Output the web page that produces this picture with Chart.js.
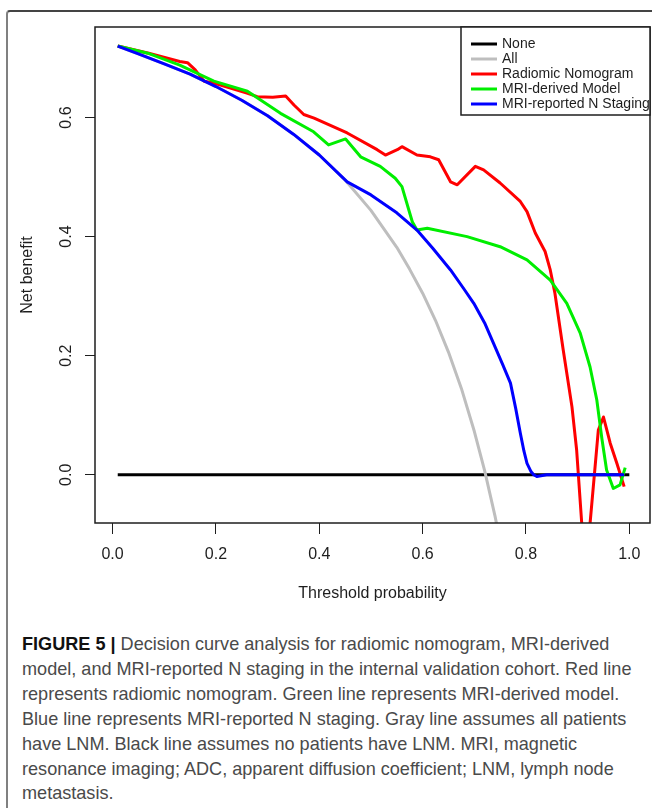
<!DOCTYPE html>
<html>
<head>
<meta charset="utf-8">
<script src="https://cdn.jsdelivr.net/npm/chart.js@4.4.1/dist/chart.umd.min.js"></script>
<style>
  body { margin: 0; background: #fff; }
  #page { position: relative; width: 652px; height: 808px; overflow: hidden; background: #fff; }
  #frame { position: absolute; left: 6px; top: 10px; width: 700px; height: 900px;
           border-top: 2px solid #444; border-left: 2px solid #808080; border-top-left-radius: 4px; }
  #chartBox { position: absolute; left: 0; top: 0; width: 652px; height: 620px; }
  #caption { position: absolute; left: 22px; top: 632px; font-family: "Liberation Sans", Arial, sans-serif;
             font-size: 18.1px; line-height: 24.9px; color: #4a4a4a; white-space: nowrap; }
  #caption b { color: #111; }
</style>
</head>
<body>
<div id="page">
  <div id="frame"></div>
  <div id="chartBox"><canvas id="dca" width="652" height="620"></canvas></div>
  <div id="caption">
    <div><b>FIGURE 5 |</b> Decision curve analysis for radiomic nomogram, MRI-derived</div>
    <div>model, and MRI-reported N staging in the internal validation cohort. Red line</div>
    <div>represents radiomic nomogram. Green line represents MRI-derived model.</div>
    <div>Blue line represents MRI-reported N staging. Gray line assumes all patients</div>
    <div>have LNM. Black line assumes no patients have LNM. MRI, magnetic</div>
    <div>resonance imaging; ADC, apparent diffusion coefficient; LNM, lymph node</div>
    <div>metastasis.</div>
  </div>
</div>
<script>
// tick labels
const xTicks = [0, 0.2, 0.4, 0.6, 0.8, 1.0];
const yTicks = [0, 0.2, 0.4, 0.6];

const seriesNames = ['None', 'All', 'Radiomic Nomogram', 'MRI-derived Model', 'MRI-reported N Staging'];

// treat none
const noneX = [0.01, 1.0];
const noneY = [0, 0];

// treat all
const allX = [0.01, 0.05, 0.1, 0.15, 0.2, 0.25, 0.3, 0.35, 0.4, 0.45, 0.5, 0.55, 0.575, 0.6, 0.625, 0.65, 0.675, 0.7, 0.72, 0.74, 0.75];
const allY = [0.72, 0.707, 0.69, 0.673, 0.652, 0.629, 0.603, 0.572, 0.537, 0.495, 0.444, 0.382, 0.345, 0.305, 0.259, 0.206, 0.145, 0.073, 0.007, -0.069, -0.112];

// radiomic nomogram
const redX = [0.01, 0.07, 0.13, 0.145, 0.16, 0.177, 0.196, 0.26, 0.28, 0.31, 0.335, 0.351, 0.37, 0.39, 0.454,
  0.512, 0.528, 0.551, 0.56, 0.589, 0.615, 0.631, 0.654, 0.667, 0.702, 0.718, 0.75, 0.789, 0.802, 0.818,
  0.837, 0.847, 0.856, 0.872, 0.889, 0.898, 0.915, 0.94, 0.95, 0.963, 0.976, 0.99];
const redY = [0.72, 0.708, 0.694, 0.692, 0.680, 0.661, 0.658, 0.641, 0.635, 0.634, 0.636, 0.621, 0.605, 0.599, 0.574,
  0.546, 0.537, 0.546, 0.551, 0.537, 0.534, 0.529, 0.492, 0.487, 0.518, 0.512, 0.490, 0.459, 0.442, 0.406,
  0.375, 0.344, 0.305, 0.210, 0.114, 0.042, -0.17, 0.075, 0.097, 0.053, 0.019, -0.020];

// MRI-derived model
const greenX = [0.01, 0.068, 0.13, 0.196, 0.261, 0.325, 0.389, 0.418, 0.451, 0.48, 0.518, 0.547, 0.56, 0.58,
  0.589, 0.609, 0.686, 0.75, 0.802, 0.847, 0.879, 0.905, 0.924, 0.937, 0.947, 0.956, 0.969, 0.982, 0.992];
const greenY = [0.72, 0.708, 0.688, 0.661, 0.644, 0.607, 0.576, 0.554, 0.564, 0.534, 0.518, 0.498, 0.484, 0.425,
  0.411, 0.414, 0.400, 0.383, 0.361, 0.327, 0.288, 0.238, 0.181, 0.126, 0.06, 0.008, -0.023, -0.017, 0.012];

// MRI-reported N staging
const blueX = [0.01, 0.05, 0.1, 0.15, 0.2, 0.25, 0.3, 0.35, 0.4, 0.454, 0.5, 0.55, 0.589, 0.62, 0.654, 0.68,
  0.699, 0.72, 0.737, 0.755, 0.77, 0.78, 0.789, 0.796, 0.802, 0.81, 0.815, 0.821, 0.84, 0.99];
const blueY = [0.72, 0.707, 0.69, 0.673, 0.652, 0.629, 0.603, 0.572, 0.537, 0.492, 0.47, 0.44, 0.411, 0.38, 0.344, 0.312,
  0.288, 0.255, 0.221, 0.185, 0.154, 0.112, 0.07, 0.04, 0.019, 0.005, 0.0, -0.003, 0.0, 0.0];

const FONT = '"Liberation Sans", Arial, sans-serif';
const INK = '#1e1e1e';

function pts(xs, ys) {
  return xs.map((x, i) => ({ x, y: ys[i] }));
}

function line(label, xs, ys, color, order) {
  return {
    label,
    data: pts(xs, ys),
    borderColor: color,
    backgroundColor: color,
    borderWidth: 3,
    borderJoinStyle: 'round',
    pointRadius: 0,
    tension: 0,
    clip: 0,
    order,
  };
}

// plot frame like R's box()
const plotBox = {
  id: 'plotBox',
  afterDatasetsDraw(chart) {
    const { ctx, chartArea: a } = chart;
    ctx.save();
    ctx.strokeStyle = INK;
    ctx.lineWidth = 1.5;
    ctx.strokeRect(a.left, a.top, a.right - a.left, a.bottom - a.top);
    ctx.restore();
  }
};

// boxed legend in the top right corner
const boxLegend = {
  id: 'boxLegend',
  afterDraw(chart) {
    const { ctx, chartArea: a } = chart;
    const left = a.right - 189;
    const top = a.top;
    ctx.save();
    ctx.fillStyle = '#fff';
    ctx.fillRect(left, top, a.right - left, 88);
    ctx.strokeStyle = INK;
    ctx.lineWidth = 1.5;
    ctx.strokeRect(left, top, a.right - left, 88);
    ctx.font = '14px ' + FONT;
    ctx.textBaseline = 'middle';
    chart.data.datasets.forEach((ds, i) => {
      const y = top + 17 + i * 15;
      ctx.strokeStyle = ds.borderColor;
      ctx.lineWidth = 3;
      ctx.beginPath();
      ctx.moveTo(left + 10, y);
      ctx.lineTo(left + 36, y);
      ctx.stroke();
      ctx.fillStyle = INK;
      ctx.fillText(ds.label, left + 41, y);
    });
    ctx.restore();
  }
};

new Chart(document.getElementById('dca'), {
  type: 'line',
  data: {
    datasets: [
      line(seriesNames[0], noneX, noneY, '#000000', 5),
      line(seriesNames[1], allX, allY, '#bebebe', 4),
      line(seriesNames[2], redX, redY, '#ff0000', 3),
      line(seriesNames[3], greenX, greenY, '#00ee00', 2),
      line(seriesNames[4], blueX, blueY, '#0000ff', 1),
    ]
  },
  options: {
    responsive: false,
    animation: false,
    devicePixelRatio: 1,
    layout: { padding: { top: 27, right: 2, left: 0, bottom: 0 } },
    plugins: { legend: { display: false }, tooltip: { enabled: false } },
    scales: {
      x: {
        type: 'linear',
        min: -0.034,
        max: 1.04,
        afterBuildTicks: s => { s.ticks = xTicks.map(v => ({ value: v })); },
        afterFit: s => { s.height = 97; },
        ticks: { callback: v => v.toFixed(1), font: { family: FONT, size: 16 }, color: INK, padding: 11, minRotation: 0, maxRotation: 0 },
        grid: { drawOnChartArea: false, tickLength: 11, color: INK, lineWidth: 1 },
        border: { display: false },
        title: { display: true, text: 'Threshold probability', font: { family: FONT, size: 16 }, color: INK, padding: { top: 0, bottom: 17 } }
      },
      y: {
        min: -0.081,
        max: 0.752,
        afterBuildTicks: s => { s.ticks = yTicks.map(v => ({ value: v })); },
        afterFit: s => { s.width = 95; },
        ticks: { callback: v => v.toFixed(1), font: { family: FONT, size: 16 }, color: INK, padding: 7, minRotation: 90, maxRotation: 90, crossAlign: 'center' },
        grid: { drawOnChartArea: false, tickLength: 10, color: INK, lineWidth: 1 },
        border: { display: false },
        title: { display: true, text: 'Net benefit', font: { family: FONT, size: 16 }, color: INK, padding: { top: 18, bottom: 0 } }
      }
    }
  },
  plugins: [plotBox, boxLegend]
});
</script>
</body>
</html>
